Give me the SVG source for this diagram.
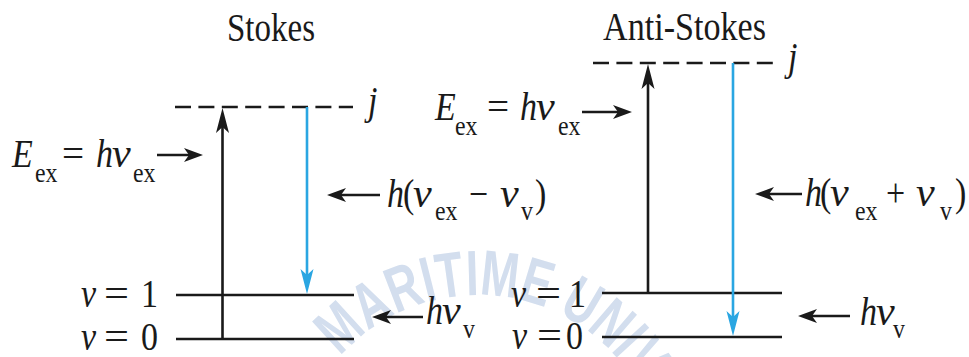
<svg xmlns="http://www.w3.org/2000/svg" width="969" height="357" viewBox="0 0 969 357">
<style>
.t{font-family:"Liberation Serif","Times New Roman",serif;font-size:41px;fill:#1a1a1a}
.m{font-family:"Liberation Serif","Times New Roman",serif;font-size:40px;fill:#1a1a1a}
.i{font-style:italic}
.s{font-size:28px}
.ln{stroke:#1a1a1a;stroke-width:2.6;fill:none}
.dash{stroke-dasharray:16 7.4}
.blue{stroke:#2aa6e2}
.wm{font-family:"Liberation Sans",Arial,sans-serif;font-weight:bold;font-size:64px;fill:#d3deee}
</style>
<defs>
<marker id="ah" viewBox="-20 -8 20 16" markerWidth="20" markerHeight="16" refX="-8" refY="0" orient="auto" markerUnits="userSpaceOnUse">
<path d="M0,0 L-19,-7 L-14,0 L-19,7 Z" fill="#1a1a1a"/>
</marker>
<marker id="av" viewBox="-26 -8 26 16" markerWidth="26" markerHeight="16" refX="-8" refY="0" orient="auto" markerUnits="userSpaceOnUse">
<path d="M0,0 L-25,-6.5 L-19,0 L-25,6.5 Z" fill="#1a1a1a"/>
</marker>
<marker id="avb" viewBox="-26 -8 26 16" markerWidth="26" markerHeight="16" refX="-8" refY="0" orient="auto" markerUnits="userSpaceOnUse">
<path d="M0,0 L-25,-6.5 L-19,0 L-25,6.5 Z" fill="#2aa6e2"/>
</marker>
<path id="arc" d="M293,480 A185,185 0 0 1 663,480"/>
</defs>
<rect width="969" height="357" fill="#ffffff"/>
<g id="watermark">
<text class="wm"><textPath href="#arc" startOffset="135" textLength="376" lengthAdjust="spacingAndGlyphs">MARITIME UNIVE</textPath></text>
</g>

<g id="stokes-title"><text class="t" x="271" y="41" text-anchor="middle" textLength="88" lengthAdjust="spacingAndGlyphs">Stokes</text></g>
<g id="antistokes-title"><text class="t" x="684.5" y="40" text-anchor="middle" textLength="163" lengthAdjust="spacingAndGlyphs">Anti-Stokes</text></g>

<g id="stokes-levels">
<path class="ln dash" d="M175,107 H353"/>
<path class="ln" d="M176,295 H354"/>
<path class="ln" d="M176,339 H354"/>
<g transform="scale(0.85 1)">
<text class="m i" x="432.9" y="114">j</text>
<text class="m"><tspan class="i" x="95.3" y="307">v</tspan><tspan x="122.4" y="307" textLength="29.4" lengthAdjust="spacingAndGlyphs">=</tspan><tspan x="165.9" y="307">1</tspan></text>
<text class="m"><tspan class="i" x="95.3" y="350">v</tspan><tspan x="122.4" y="350" textLength="29.4" lengthAdjust="spacingAndGlyphs">=</tspan><tspan x="165.9" y="350">0</tspan></text>
</g>
</g>

<g id="antistokes-levels">
<path class="ln dash" d="M593,63 H773"/>
<path class="ln" d="M602,293 H782"/>
<path class="ln" d="M602,337 H782"/>
<g transform="scale(0.85 1)">
<text class="m i" x="927.1" y="70">j</text>
<text class="m"><tspan class="i" x="601.2" y="307">v</tspan><tspan x="630.6" y="307" textLength="29.4" lengthAdjust="spacingAndGlyphs">=</tspan><tspan x="669.4" y="307">1</tspan></text>
<text class="m"><tspan class="i" x="602.4" y="349">v</tspan><tspan x="631.8" y="349" textLength="29.4" lengthAdjust="spacingAndGlyphs">=</tspan><tspan x="665.9" y="349">0</tspan></text>
</g>
</g>

<g id="stokes-labels" transform="scale(0.85 1)">
<text class="m"><tspan class="i" x="14.1" y="167">E</tspan><tspan class="s" x="41.2" y="182">ex</tspan><tspan x="72.9" y="167" textLength="26" lengthAdjust="spacingAndGlyphs">=</tspan><tspan class="i" x="112.9" y="167">h</tspan><tspan class="i" x="131.8" y="167" textLength="22" lengthAdjust="spacingAndGlyphs">ν</tspan><tspan class="s" x="156.5" y="182">ex</tspan></text>
<text class="m"><tspan class="i" x="455.3" y="207">h</tspan><tspan x="474.1" y="207">(</tspan><tspan class="i" x="485.9" y="207" textLength="22" lengthAdjust="spacingAndGlyphs">ν</tspan><tspan class="s" x="511.8" y="220">ex</tspan><tspan x="551.8" y="207">−</tspan><tspan class="i" x="588.2" y="207" textLength="22" lengthAdjust="spacingAndGlyphs">ν</tspan><tspan class="s" x="612.9" y="220">v</tspan><tspan x="629.4" y="207">)</tspan></text>
<text class="m"><tspan class="i" x="501.2" y="324">h</tspan><tspan class="i" x="520.1" y="324" textLength="22" lengthAdjust="spacingAndGlyphs">ν</tspan><tspan class="s" x="544.7" y="338">v</tspan></text>
</g>

<g id="antistokes-labels" transform="scale(0.85 1)">
<text class="m"><tspan class="i" x="511.8" y="120">E</tspan><tspan class="s" x="535.3" y="135">ex</tspan><tspan x="572.9" y="120" textLength="26" lengthAdjust="spacingAndGlyphs">=</tspan><tspan class="i" x="611.8" y="120">h</tspan><tspan class="i" x="630.7" y="120" textLength="22" lengthAdjust="spacingAndGlyphs">ν</tspan><tspan class="s" x="656.5" y="135">ex</tspan></text>
<text class="m"><tspan class="i" x="947.1" y="206">h</tspan><tspan x="964.7" y="206">(</tspan><tspan class="i" x="976.5" y="206" textLength="22" lengthAdjust="spacingAndGlyphs">ν</tspan><tspan class="s" x="1005.9" y="220">ex</tspan><tspan x="1042.4" y="206">+</tspan><tspan class="i" x="1077.6" y="206" textLength="22" lengthAdjust="spacingAndGlyphs">ν</tspan><tspan class="s" x="1105.9" y="220">v</tspan><tspan x="1123.5" y="206">)</tspan></text>
<text class="m"><tspan class="i" x="1011.8" y="325">h</tspan><tspan class="i" x="1030.7" y="325" textLength="22" lengthAdjust="spacingAndGlyphs">ν</tspan><tspan class="s" x="1050.6" y="338">v</tspan></text>
</g>

<g id="connectors">
<path class="ln" d="M222.5,339 V116" marker-end="url(#av)"/>
<path class="ln blue" d="M307,107 V286" marker-end="url(#avb)"/>
<path class="ln" d="M648,293 V72" marker-end="url(#av)"/>
<path class="ln blue" d="M733,63 V328" marker-end="url(#avb)"/>
<path class="ln" d="M157,155 H195" marker-end="url(#ah)"/>
<path class="ln" d="M582,112 H624" marker-end="url(#ah)"/>
<path class="ln" d="M380,195 H335" marker-end="url(#ah)"/>
<path class="ln" d="M802,194 H763" marker-end="url(#ah)"/>
<path class="ln" d="M423,317 H380" marker-end="url(#ah)"/>
<path class="ln" d="M850,316 H806" marker-end="url(#ah)"/>
</g>
</svg>
